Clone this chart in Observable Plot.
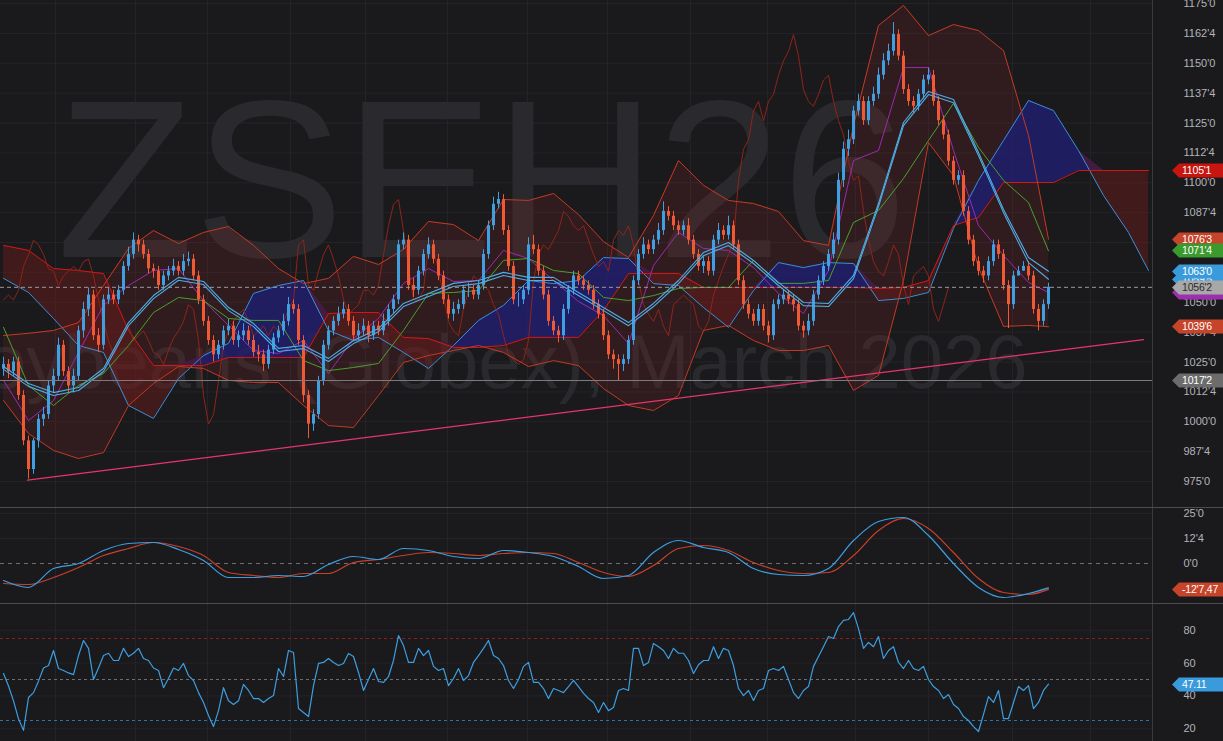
<!DOCTYPE html>
<html><head><meta charset="utf-8">
<script src="https://cdn.jsdelivr.net/npm/d3@7"></script>
<script src="https://cdn.jsdelivr.net/npm/@observablehq/plot@0.6"></script>
<style>
html,body{margin:0;padding:0;background:#1a1a1d;}
#wrap{width:1223px;height:741px;overflow:hidden;background:#1a1a1d;}
#wrap svg{display:block;}
.sep{height:1px;background:#4c4c50;}
</style></head><body><div id="wrap"></div>
<script>
// ---------------- DATA ----------------
const symbol = "ZSEH26";
const description = "Soybeans (Globex), March 2026";

const open = [1022,1024,1021,1025,1011,992,980,992,1001,1003,
1015,1019,1032,1021,1015,1019,1038,1047,1053,1036,
1032,1051,1053,1051,1055,1065,1070,1076,1074,1070,
1064,1063,1057,1061,1063,1065,1063,1067,1068,1061,
1051,1042,1034,1028,1032,1038,1040,1034,1036,1038,
1034,1029,1028,1024,1030,1035,1038,1042,1049,1047,
1034,1011,999,1003,1017,1032,1038,1042,1045,1047,
1042,1036,1038,1040,1036,1040,1038,1042,1047,1051,
1074,1076,1057,1055,1063,1070,1074,1068,1061,1051,
1045,1047,1049,1055,1055,1053,1057,1070,1082,1091,
1093,1080,1065,1051,1051,1055,1074,1072,1063,1053,
1042,1038,1036,1047,1055,1061,1059,1057,1055,1049,
1045,1036,1028,1026,1024,1026,1034,1059,1070,1074,
1072,1076,1080,1088,1086,1082,1080,1082,1076,1070,
1065,1067,1063,1076,1080,1078,1082,1074,1059,1049,
1045,1042,1047,1040,1036,1049,1051,1053,1051,1049,
1040,1038,1042,1053,1059,1065,1070,1076,1101,1114,
1118,1130,1134,1126,1134,1137,1145,1151,1155,1162,
1153,1139,1134,1132,1137,1143,1145,1134,1126,1120,
1109,1101,1103,1088,1076,1067,1063,1061,1067,1074,
1070,1057,1049,1061,1063,1065,1061,1047,1042,1049];
const close = [1024,1021,1025,1011,992,980,992,1001,1003,1015,
1019,1032,1021,1015,1019,1038,1047,1053,1036,1032,
1051,1053,1051,1055,1065,1070,1076,1074,1070,1064,
1063,1057,1061,1063,1065,1063,1067,1068,1061,1051,
1042,1034,1028,1032,1038,1040,1034,1036,1038,1034,
1029,1028,1024,1030,1035,1038,1042,1049,1047,1034,
1011,999,1003,1017,1032,1038,1042,1045,1047,1042,
1036,1038,1040,1036,1040,1038,1042,1047,1051,1074,
1076,1057,1055,1063,1070,1074,1068,1061,1051,1045,
1047,1049,1055,1055,1053,1057,1070,1082,1091,1093,
1080,1065,1051,1051,1055,1074,1072,1063,1053,1042,
1038,1036,1047,1055,1061,1059,1057,1055,1049,1045,
1036,1028,1026,1024,1026,1034,1059,1070,1074,1072,
1076,1080,1088,1086,1082,1080,1082,1076,1070,1065,
1067,1063,1076,1080,1078,1082,1074,1059,1049,1045,
1042,1047,1040,1036,1049,1051,1053,1051,1049,1040,
1038,1042,1053,1059,1065,1070,1076,1101,1114,1118,
1130,1134,1126,1134,1137,1145,1151,1155,1162,1153,
1139,1134,1132,1137,1143,1145,1134,1126,1120,1109,
1101,1103,1088,1076,1067,1063,1061,1067,1074,1070,
1057,1049,1061,1063,1065,1061,1047,1042,1049,1056.25];
const high = [1027,1026,1027,1027,1013,994,993,1003,1006,1017,
1022,1035,1034,1023,1022,1040,1050,1056,1055,1039,
1053,1056,1055,1057,1067,1073,1079,1078,1076,1072,
1066,1065,1063,1065,1068,1067,1070,1071,1070,1063,
1053,1044,1036,1034,1040,1043,1042,1038,1041,1040,
1036,1032,1030,1032,1037,1040,1045,1052,1051,1049,
1036,1013,1005,1019,1034,1040,1044,1048,1050,1049,
1044,1041,1043,1042,1042,1042,1045,1049,1053,1076,
1079,1078,1060,1065,1072,1077,1076,1070,1063,1053,
1050,1051,1057,1058,1057,1059,1072,1084,1094,1096,
1095,1082,1067,1054,1057,1077,1078,1074,1065,1055,
1044,1040,1049,1057,1063,1063,1061,1059,1057,1051,
1047,1038,1030,1028,1028,1036,1061,1072,1077,1076,
1078,1083,1092,1090,1088,1084,1084,1085,1078,1072,
1069,1069,1078,1083,1082,1086,1084,1076,1061,1051,
1047,1049,1049,1042,1051,1053,1055,1055,1053,1051,
1042,1045,1055,1061,1067,1072,1079,1104,1117,1122,
1132,1137,1136,1136,1140,1148,1154,1158,1167,1164,
1155,1141,1136,1139,1145,1148,1147,1136,1128,1122,
1111,1105,1105,1090,1078,1069,1065,1069,1076,1076,
1072,1059,1063,1065,1067,1067,1063,1049,1051,1058];
const low = [1019,1018,1019,1009,990,976,978,989,998,1001,
1012,1017,1019,1012,1012,1017,1035,1044,1034,1029,
1030,1049,1049,1049,1053,1063,1068,1071,1068,1062,
1060,1055,1055,1059,1061,1061,1061,1065,1059,1049,
1040,1032,1025,1026,1030,1036,1032,1031,1034,1032,
1027,1025,1021,1022,1028,1033,1036,1040,1045,1032,
1008,993,996,1001,1015,1030,1036,1040,1043,1040,
1034,1034,1036,1033,1034,1036,1036,1040,1045,1049,
1072,1055,1052,1053,1061,1068,1066,1059,1049,1043,
1042,1045,1047,1052,1051,1051,1055,1068,1080,1089,
1078,1063,1049,1048,1049,1053,1070,1061,1051,1040,
1036,1033,1034,1045,1053,1057,1055,1053,1047,1043,
1034,1026,1022,1017,1021,1024,1032,1057,1068,1070,
1070,1074,1078,1084,1080,1078,1078,1074,1068,1063,
1062,1061,1061,1074,1076,1076,1072,1057,1047,1043,
1040,1040,1038,1033,1034,1047,1049,1049,1046,1038,
1035,1036,1040,1051,1057,1063,1068,1074,1098,1111,
1116,1128,1124,1124,1132,1135,1143,1149,1153,1151,
1137,1132,1129,1130,1135,1141,1132,1124,1118,1107,
1099,1099,1086,1074,1065,1061,1058,1059,1065,1068,
1055,1039,1047,1061,1063,1059,1045,1038,1040,1047];

// indicator samples (bar index)
const sIdx = [0,5,10,15,20,25,30,35,40,45,50,55,60,65,70,75,80,85,90,95,100,105,110,115,120,125,130,135,140,145,150,155,160,165,170,175,180,185,190,195,200,205,209];
const bbUpper = [1036.1,1037.0,1038.2,1041.5,1057.0,1072.5,1080.0,1074.6,1079.2,1081.7,1073.8,1064.1,1057.8,1060.0,1069.2,1065.8,1072.1,1083.8,1082.5,1075.8,1093.0,1092.6,1095.5,1086.7,1075.4,1068.7,1086.3,1109.3,1098.9,1092.6,1091.3,1088.0,1075.8,1073.8,1124.0,1165.8,1174.2,1161.6,1166.2,1163.7,1155.3,1119.8,1076.375];
const bbLower = [1008.9,995.1,988.0,984.6,987.1,1006.8,1016.0,1023.1,1022.3,1017.3,1016.4,1016.4,1006.8,998.4,997.6,1011.0,1024.8,1027.7,1029.8,1031.9,1029.0,1023.1,1025.6,1023.5,1013.9,1006.8,1004.7,1011.0,1038.2,1040.3,1034.0,1029.8,1029.8,1031.9,1013.1,1019.4,1059.1,1116.8,1103.0,1064.5,1039.9,1040.3,1039.75];
const maFast = [1023.1,1016.0,1012.2,1014.3,1022.3,1041.5,1052.8,1060.4,1058.7,1047.8,1041.1,1030.7,1031.9,1026.5,1034.0,1039.0,1049.5,1053.7,1057.9,1059.1,1062.5,1060.4,1060.4,1054.1,1047.8,1041.5,1049.5,1059.1,1070.8,1075.0,1067.5,1058.3,1049.9,1049.5,1061.2,1091.3,1125.2,1138.2,1134.8,1112.7,1088.8,1068.7,1063.0];
const maSlow = [1021.9,1014.8,1011.0,1013.1,1021.0,1040.2,1051.5,1059.2,1057.4,1046.5,1039.8,1029.4,1030.6,1025.2,1032.7,1037.7,1048.2,1052.4,1056.6,1057.8,1061.2,1059.1,1059.1,1052.8,1046.5,1040.2,1048.2,1057.8,1069.5,1073.7,1066.2,1057.0,1048.6,1048.2,1059.9,1090.0,1123.9,1136.9,1133.5,1111.4,1087.5,1066.6,1059.625];
const tenkan = [1017.3,1000.5,1008.9,1029.0,1048.7,1057.0,1063.3,1064.1,1050.7,1040.3,1029.8,1028.6,1034.0,1020.2,1034.8,1043.2,1057.9,1064.1,1058.7,1059.1,1071.7,1068.3,1059.1,1050.3,1044.4,1032.7,1065.4,1079.2,1072.5,1071.7,1064.5,1053.7,1045.3,1063.3,1109.3,1113.5,1148.2,1148.2,1113.5,1082.1,1069.6,1058.3,1054.1];
const kijun = [1039.5,1015.2,1006.8,1015.2,1020.2,1031.9,1045.7,1052.0,1050.7,1043.2,1042.4,1042.4,1025.6,1021.4,1022.7,1024.4,1038.2,1053.7,1054.1,1054.9,1067.5,1068.3,1063.3,1062.0,1052.0,1050.7,1052.8,1055.8,1056.2,1056.2,1067.5,1057.9,1057.9,1059.1,1083.4,1088.4,1101.8,1117.7,1133.2,1114.8,1101.0,1091.7,1071.5];
const macd = [-8.5,-12,-2.5,0,6.5,10,10.5,7,1.5,-7,-7,-6,-6.5,-0.5,3.5,2,7.5,6.5,3.5,2.5,6.5,5.5,3.5,-1.5,-7.5,-6,5.5,11.5,8,5.5,-2.5,-5.5,-6,-2.5,11.5,21,23,14,0,-12,-17,-15,-12.2];
const signal = [-10,-10.5,-7,-2,4,7.5,10.5,8.5,4,-4.5,-6,-7,-5,-5,0.5,2,4,5.5,5,4,5,5.5,5,0.5,-4.5,-6.5,-1,7.5,9,6.5,0.5,-3.5,-5,-4.5,4,16.5,22.5,17.5,5.5,-7.5,-14.5,-15.5,-12.93];

// Ichimoku cloud (displaced forward)
const cIdx = [0,5,10,15,20,25,30,35,40,45,50,55,60,65,70,75,80,85,90,95,100,105,110,115,120,125,130,135,140,145,150,155,160,165,170,175,180,185,190,195,200,205,210,215,220,225,229];
const spanA = [1060.0,1054.1,1043.2,1031.9,1029.0,1006.8,1001.4,1018.1,1027.7,1032.8,1053.7,1057.0,1059.1,1038.2,1034.0,1035.3,1029.0,1022.3,1031.9,1042.4,1048.7,1059.1,1057.8,1059.1,1068.7,1068.3,1057.8,1057.0,1047.8,1039.5,1054.9,1066.6,1064.5,1066.6,1066.2,1050.7,1051.6,1054.1,1080.9,1101.0,1117.7,1134.4,1130.2,1113.5,1094.7,1079.2,1063.3];
const spanB = [1073.8,1071.7,1064.1,1063.3,1062.0,1038.2,1023.5,1023.5,1023.5,1026.9,1026.9,1026.9,1026.9,1045.3,1045.7,1045.7,1035.3,1034.8,1031.1,1031.1,1031.9,1035.3,1035.3,1035.3,1046.6,1062.0,1062.0,1062.0,1056.2,1056.2,1056.2,1056.2,1056.2,1056.2,1056.2,1055.8,1056.2,1059.1,1082.1,1085.5,1100.1,1100.1,1100.1,1105.1,1105.1,1105.1,1105.125];
const chikouShift = 20;

const rsi = [53.7,46,37,26,19,39,42,49,57,58.5,
67.7,56.7,55.5,54,53,64.6,73.8,69,50,57,
64.6,66,61.6,61.6,69,64,66,69,62.8,61.6,
57,55.5,45,50.6,57,55.5,59.8,52.4,49.4,42,
36,28,21.3,31,45,37,34.8,37,47,43.3,
38.4,38.4,36,38.4,40.2,56.7,51.8,67.7,66.5,32.3,
29.9,27.4,46.3,59.8,60.4,62.8,60.4,58.5,59.8,65.9,
64,54.3,43.3,50,56.7,48.8,48.2,51.8,61.6,76.8,
70.7,60.4,60.4,69,64.6,67.7,58,55.5,56.7,46.3,
50.6,56.7,49.4,52.4,60.4,64.6,69,73.8,64.6,62.8,
58.5,49.4,44.5,50,58,60.4,48.2,48.2,44.5,38.4,
44.5,43.3,42,45.7,49.4,45.7,41.5,38.4,36,29.9,
36,31,33,43.3,44.5,43.3,69,69,58.5,60.4,
72,70,67.7,62.8,69,66,66,61.6,53.7,59,
61.6,61.6,70,62.8,69,67.7,58.5,44.5,40.2,43.3,
37.2,43.3,44.5,55.5,56.7,55.5,58,50,42,38.4,
43.3,45.7,58,64,70,76.2,75,82.3,86,86.6,
90.8,81,69,72.6,70,76.2,62.8,67.7,70,60.4,
56.7,61.6,56.7,55.5,58,50,45.7,43.3,38.4,40.8,
34.8,32.3,27.4,25,21.3,18.3,28.7,39.6,36,43.3,
26.2,26.2,36,45.7,43.3,46.3,32.3,36,43.3,47.11];

const trendIdx = [4.8, 228];
const trendVal = [975.6, 1034.4];
const hLevel = 1017.25;
const lastPrice = 1056.25;
const gridIdx = [10.4,26.4,40.8,57.4,72.4,88.8,104.8,120.8,137.4,152.8,170.4,185,201.8,217.4];
const priceTicks = [975,987.5,1000,1012.5,1025,1037.5,1050,1062.5,1075,1087.5,1100,1112.5,1125,1137.5,1150,1162.5,1175];
const macdTicks = [0,12.5,25];
const rsiTicks = [20,40,60,80];
const rsiLevels = [75,50,25];

const tagValues = [1105.125,1076.375,1071.5,1054.1,1059.625,1063,1056.25,1039.75,1017.25];
const tagShowText = [true,true,true,false,true,true,true,true,true];
const macdTagValue = -12.93, macdTagText = "-12'7,47";
const rsiTagValue = 47.11;

// ---------------- STYLE ----------------
const FONT = "'Liberation Sans', Arial, sans-serif";
const C = {up:"#3f9fe0", down:"#ef5934", bb:"#c43a23", spanA:"#3b8fd8", spanB:"#d41818",
  tenkan:"#9a2bb0", kijun:"#47a12b", ma:"#4eaee6", chikou:"#8e2419", trend:"#e8346c",
  grid:"#242428", wm:"#2a2a2e"};
const tagFill = ["#c8150f","#c5442a","#3b9a2d","#9b2fae","#3a9bdc","#3a9bdc","#a8a8a8","#c5442a","#6c6c6c"];
const tagInk  = ["#fff","#fff","#fff","#fff","#fff","#fff","#2a2a2a","#fff","#fff"];

// ---------------- HELPERS ----------------
const fmt8 = v => { const s = v < 0 ? "-" : ""; const a = Math.abs(v); let n = Math.floor(a + 1e-9); let e = Math.round((a - n) * 8); if (e === 8) { n++; e = 0; } return s + n + "'" + e; };
const bars = close.map((c, i) => ({i, o: open[i], h: high[i], l: low[i], c}));
const ind = sIdx.map((i, k) => ({i, u: bbUpper[k], lo: bbLower[k], f: maFast[k], s: maSlow[k], t: tenkan[k], kj: kijun[k], m: macd[k], sg: signal[k]}));
const cloud = cIdx.map((i, k) => ({i, a: spanA[k], b: spanB[k]}));
const chik = close.map((c, i) => ({i: i - chikouShift, c})).filter(d => d.i >= 0);
const trend = trendIdx.map((i, k) => ({i, v: trendVal[k]}));
const rsiData = rsi.map((v, i) => ({i, v}));

function vsep(index, scales, values, dims) {
  const x = dims.width - dims.marginRight + 0.5;
  return d3.create("svg:line").attr("x1", x).attr("x2", x).attr("y1", 0).attr("y2", dims.height).attr("stroke", "#3a3a3f").node();
}
function tags(list) {
  return (index, scales, values, dims) => {
    const g = d3.create("svg:g").attr("font-size", 10.5).attr("font-family", FONT).attr("text-anchor", "start").attr("letter-spacing", "-0.2px");
    const xr = dims.width - dims.marginRight;
    for (const t of list) {
      const y = Math.round(scales.y(t.value)) + 0.5;
      const tip = xr + 20, body = xr + 27, right = dims.width, h = 14;
      g.append("path").attr("d", `M${tip},${y}L${body},${y - h / 2}H${right}V${y + h / 2}H${body}Z`).attr("fill", t.fill);
      if (t.text) g.append("text").attr("x", xr + 30).attr("y", y).attr("dy", "0.36em").attr("text-anchor", "start").attr("fill", t.ink).text(t.text);
    }
    return g.node();
  };
}
const X = {domain: [-0.6, 229.8], axis: null};
const base = {width: 1223, marginLeft: 0, marginRight: 71, marginTop: 0, marginBottom: 0,
  style: {background: "transparent", color: "#b4b4b8", fontFamily: FONT, fontSize: "11px"}};

// ---------------- MAIN PANEL ----------------
const mainTags = tagValues.map((v, k) => ({value: v, text: tagShowText[k] ? fmt8(v) : "", fill: tagFill[k], ink: tagInk[k]}));
const main = Plot.plot({...base, height: 507, x: X, y: {domain: [964.12, 1176.26], axis: null},
  marks: [
    Plot.ruleX(gridIdx, {stroke: C.grid}),
    Plot.ruleY(priceTicks, {stroke: C.grid}),
    Plot.text([symbol], {text: d => d, frameAnchor: "top-left", dx: 56, dy: 256, lineAnchor: "bottom", textAnchor: "start", fontSize: 225, fill: C.wm, fontFamily: FONT}),
    Plot.text([description], {text: d => d, frameAnchor: "top-left", dx: 1027, dy: 387, lineAnchor: "bottom", textAnchor: "end", fontSize: 76, fill: C.wm, fontFamily: FONT}),
    Plot.areaY(ind, {x: "i", y1: "lo", y2: "u", fill: "#8a2a22", fillOpacity: 0.2}),
    Plot.areaY(cloud, {x: "i", y1: "b", y2: d => Math.max(d.a, d.b), fill: "#1e1e72", fillOpacity: 0.8}),
    Plot.areaY(cloud, {x: "i", y1: "a", y2: d => Math.max(d.a, d.b), fill: "#701a1a", fillOpacity: 0.45}),
    Plot.line(cloud, {x: "i", y: "a", stroke: C.spanA, strokeWidth: 1}),
    Plot.line(cloud, {x: "i", y: "b", stroke: C.spanB, strokeWidth: 1}),
    Plot.line(chik, {x: "i", y: "c", stroke: C.chikou, strokeWidth: 1}),
    Plot.line(ind, {x: "i", y: "u", stroke: C.bb, strokeWidth: 1}),
    Plot.line(ind, {x: "i", y: "lo", stroke: C.bb, strokeWidth: 1}),
    Plot.line(ind, {x: "i", y: "t", stroke: C.tenkan, strokeWidth: 1}),
    Plot.line(ind, {x: "i", y: "kj", stroke: C.kijun, strokeWidth: 1}),
    Plot.ruleX(bars, {x: "i", y1: "l", y2: "h", stroke: d => d.c >= d.o ? C.up : C.down, strokeWidth: 1}),
    Plot.ruleX(bars, {x: "i", y1: "o", y2: "c", stroke: d => d.c >= d.o ? C.up : C.down, strokeWidth: 3}),
    Plot.line(ind, {x: "i", y: "f", stroke: C.ma, strokeWidth: 1.1}),
    Plot.line(ind, {x: "i", y: "s", stroke: C.ma, strokeWidth: 1.1}),
    Plot.line(trend, {x: "i", y: "v", stroke: C.trend, strokeWidth: 1.3}),
    Plot.ruleY([hLevel], {stroke: "#7d7d82", strokeWidth: 1}),
    Plot.ruleY([lastPrice], {stroke: "#9a9aa0", strokeDasharray: "4,3"}),
    vsep,
    Plot.axisY(priceTicks, {anchor: "right", label: null, tickSize: 0, tickPadding: 31, tickFormat: fmt8, fill: "#b4b4b8", fontSize: 11}),
    tags(mainTags)
  ]});

// ---------------- MACD PANEL ----------------
const macdPlot = Plot.plot({...base, height: 95, x: X, y: {domain: [-20, 27.5], axis: null},
  marks: [
    Plot.ruleX(gridIdx, {stroke: C.grid}),
    Plot.ruleY([12.5, 25], {stroke: C.grid}),
    Plot.ruleY([0], {stroke: "#6e6e72", strokeDasharray: "4,4"}),
    Plot.line(ind, {x: "i", y: "sg", stroke: "#c8402a", strokeWidth: 1.2, curve: "monotone-x"}),
    Plot.line(ind, {x: "i", y: "m", stroke: "#3d9ee0", strokeWidth: 1.2, curve: "monotone-x"}),
    vsep,
    Plot.axisY(macdTicks, {anchor: "right", label: null, tickSize: 0, tickPadding: 31, tickFormat: fmt8, fill: "#b4b4b8", fontSize: 11}),
    tags([{value: macdTagValue, text: macdTagText, fill: "#c5442a", ink: "#fff"}])
  ]});

// ---------------- RSI PANEL ----------------
const rsiPlot = Plot.plot({...base, height: 137, x: X, y: {domain: [12.2, 95.73], axis: null},
  marks: [
    Plot.ruleX(gridIdx, {stroke: C.grid}),
    Plot.ruleY(rsiTicks, {stroke: C.grid}),
    Plot.ruleY([rsiLevels[0]], {stroke: "#8e1f1f", strokeDasharray: "3,3"}),
    Plot.ruleY([rsiLevels[1]], {stroke: "#6e6e72", strokeDasharray: "3,3"}),
    Plot.ruleY([rsiLevels[2]], {stroke: "#2f72b0", strokeDasharray: "3,3"}),
    Plot.line(rsiData, {x: "i", y: "v", stroke: "#3d9ee0", strokeWidth: 1.2}),
    vsep,
    Plot.axisY(rsiTicks, {anchor: "right", label: null, tickSize: 0, tickPadding: 31, tickFormat: d => String(d), fill: "#b4b4b8", fontSize: 11}),
    tags([{value: rsiTagValue, text: rsiTagValue.toFixed(2), fill: "#3a9bdc", ink: "#fff"}])
  ]});

const wrap = document.getElementById("wrap");
const sep = () => { const d = document.createElement("div"); d.className = "sep"; return d; };
wrap.append(main, sep(), macdPlot, sep(), rsiPlot);
</script></body></html>
